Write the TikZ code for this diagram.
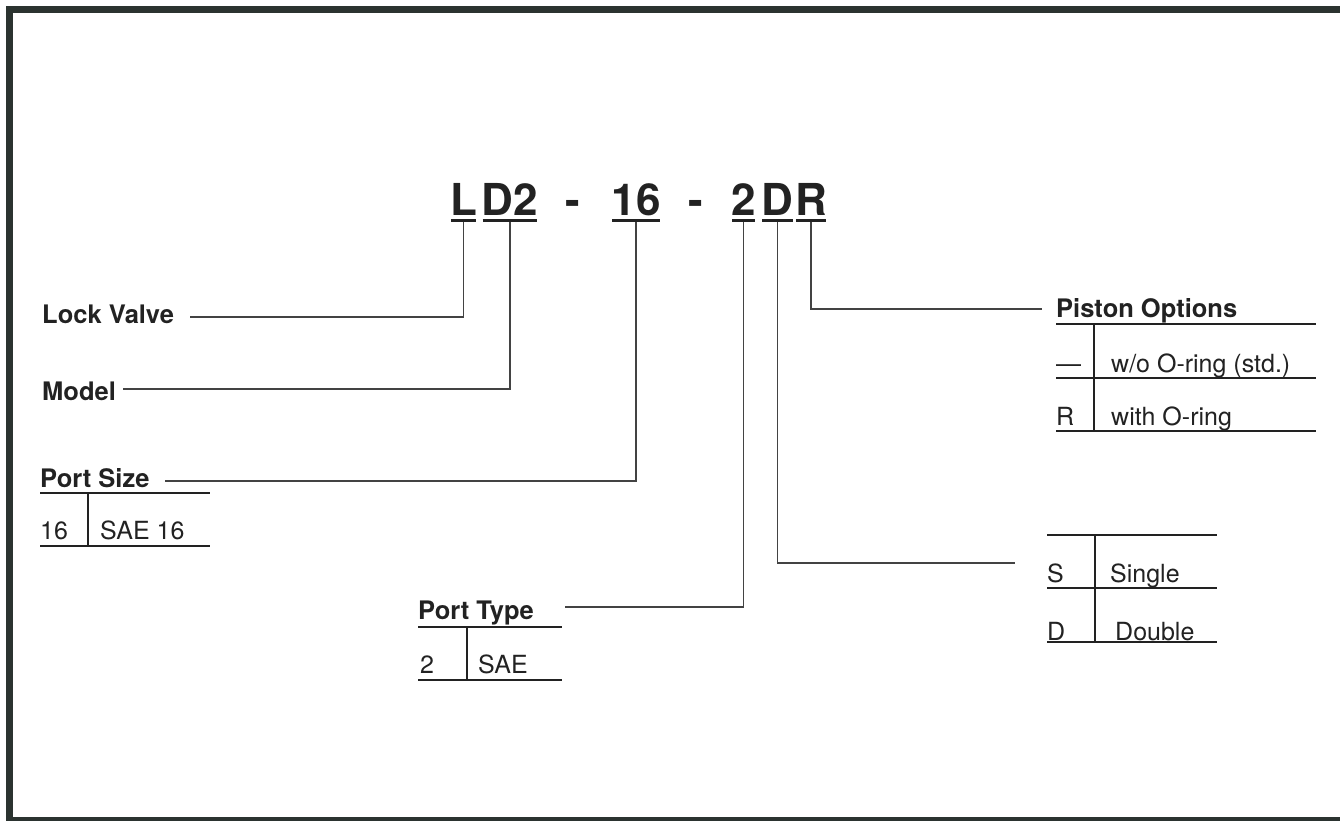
\documentclass[tikz,border=0pt]{standalone}
\usepackage{fontspec}
\setmainfont{TeX Gyre Heros}
\definecolor{ink}{HTML}{222222}
\definecolor{framecol}{HTML}{2B3330}
\begin{document}
\begin{tikzpicture}[x=1pt,y=-1pt,
  code/.style={font=\fontsize{44}{44}\selectfont\bfseries, text=ink, inner sep=0pt, anchor=base},
  lbl/.style={font=\fontsize{25.5}{26}\selectfont\bfseries, text=ink, inner sep=0pt, anchor=base west},
  txt/.style={font=\fontsize{25}{26}\selectfont, text=ink, inner sep=0pt, anchor=base west},
  uline/.style={line width=3pt, draw=ink},
  conn/.style={line width=1.4pt, draw=ink!85},
  tabrule/.style={line width=1.6pt, draw=ink}]
\useasboundingbox (0,0) rectangle (1340,821);
\clip (0,0) rectangle (1340,821);
\fill[white] (0,0) rectangle (1340,821);
\draw[framecol, line width=7pt] (9,10) rectangle (1360,820);

% model code
\node[code] (cL)  at (463.5,215) {L};
\node[code] (cD2) at (510,215) {D2};
\node[code] (h1)  at (573,215) {-};
\node[code] (c16) at (636,215) {16};
\node[code] (h2)  at (696,215) {-};
\node[code] (c2)  at (743.5,215) {2};
\node[code] (cD)  at (777.5,215) {D};
\node[code] (cR)  at (811,215) {R};
\foreach \n in {cL,cD2,c16,c2,cD,cR}
  \draw[uline] ([xshift=1pt,yshift=-5pt]\n.base west) -- ([xshift=-1pt,yshift=-5pt]\n.base east);

% connector ends
\coordinate (eLock) at (190,317);
\coordinate (eModel) at (123,389);
\coordinate (eSize) at (165,481);
\coordinate (eType) at (565,607);
\coordinate (eDS) at (1015,563);
\coordinate (ePist) at (1042,309);

\draw[conn] ([yshift=-6.5pt]cL.base) |- (eLock);
\draw[conn] ([yshift=-6.5pt]cD2.base) |- (eModel);
\draw[conn] ([yshift=-6.5pt]c16.base) |- (eSize);
\draw[conn] ([yshift=-6.5pt]c2.base) |- (eType);
\draw[conn] ([yshift=-6.5pt]cD.base) |- (eDS);
\draw[conn] ([yshift=-6.5pt]cR.base) |- (ePist);

% left labels
\node[lbl] (lock) at (42,323) {Lock Valve};
\node[lbl] (model) at (42,400) {Model};
\node[lbl] (psize) at (40,487) {Port Size};
\draw[tabrule] (40,493) -- (210,493);
\draw[tabrule] (88,493) -- (88,546);
\draw[tabrule] (40,546) -- (210,546);
\node[txt] (ps1) at (40,539) {16};
\node[txt] (ps2) at (100,539) {SAE 16};

% port type
\node[lbl] (ptype) at (418,619) {Port Type};
\draw[tabrule] (418,627) -- (562,627);
\draw[tabrule] (467,627) -- (467,680);
\draw[tabrule] (418,680) -- (562,680);
\node[txt] (pt1) at (420,673) {2};
\node[txt] (pt2) at (478,673) {SAE};

% piston options
\node[lbl] (pist) at (1056,317) {Piston Options};
\draw[tabrule] (1056,324) -- (1316,324);
\draw[tabrule] (1094,324) -- (1094,431);
\draw[tabrule] (1056,378) -- (1316,378);
\draw[tabrule] (1056,431) -- (1316,431);
\node[txt] (po1) at (1056,372) {\textemdash};
\node[txt] (po2) at (1111,372) {w/o O-ring (std.)};
\node[txt] (po3) at (1056,425) {R};
\node[txt] (po4) at (1111,425) {with O-ring};

% single / double
\draw[tabrule] (1047,535) -- (1217,535);
\draw[tabrule] (1095,535) -- (1095,642);
\draw[tabrule] (1047,588) -- (1217,588);
\draw[tabrule] (1047,642) -- (1217,642);
\node[txt] (sd1) at (1047,582) {S};
\node[txt] (sd2) at (1110,582) {Single};
\node[txt] (sd3) at (1047,640) {D};
\node[txt] (sd4) at (1115,640) {Double};
\end{tikzpicture}
\end{document}
